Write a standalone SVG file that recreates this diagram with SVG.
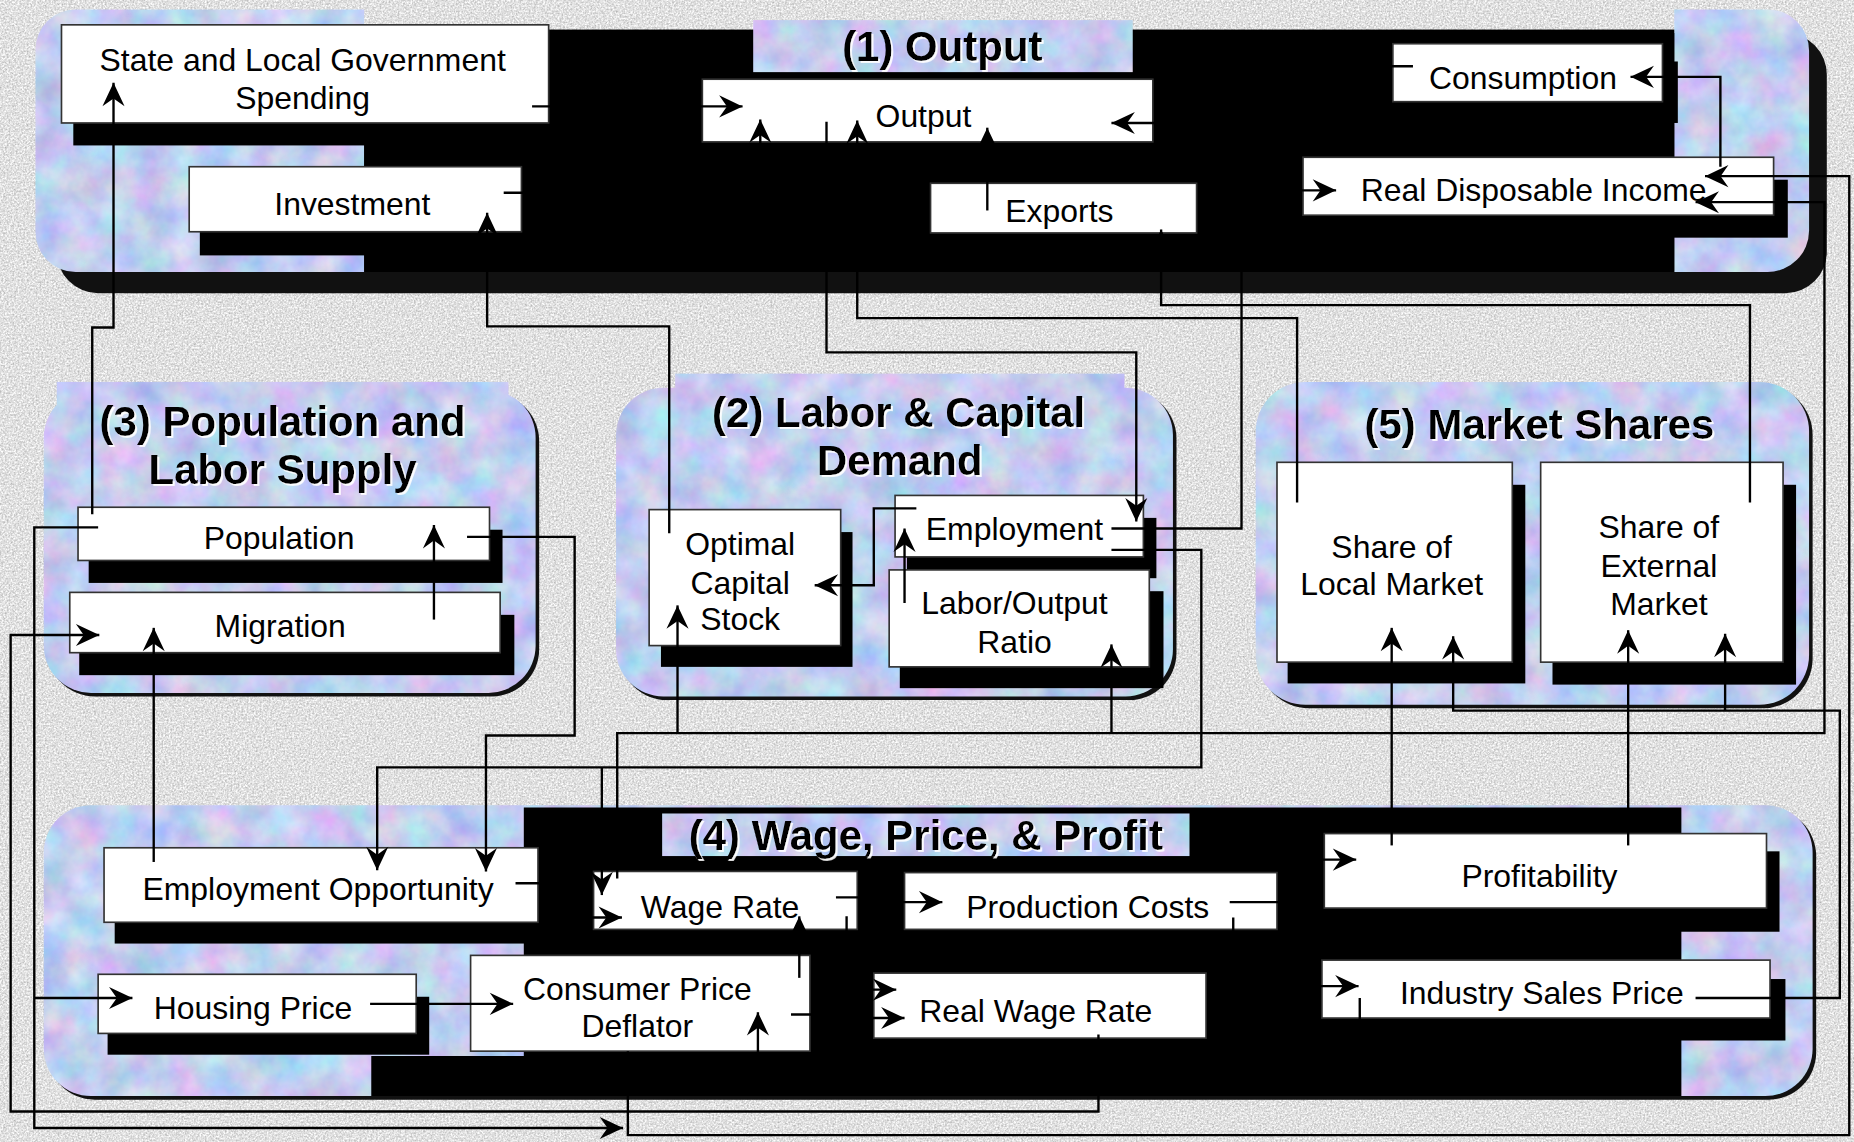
<svg xmlns="http://www.w3.org/2000/svg" width="1854" height="1142" viewBox="0 0 1854 1142">
<defs>
<filter id="gran" x="0" y="0" width="1" height="1" color-interpolation-filters="sRGB">
<feTurbulence type="fractalNoise" baseFrequency="0.55" numOctaves="3" seed="2" result="n"/>
<feColorMatrix in="n" type="matrix" values="0.42 0 0 0 0.67  0.42 0 0 0 0.67  0.42 0 0 0 0.67  0 0 0 0 1"/>
</filter>
<filter id="tex" x="0" y="0" width="1" height="1" color-interpolation-filters="sRGB">
<feTurbulence type="fractalNoise" baseFrequency="0.035" numOctaves="4" seed="7" result="n"/>
<feColorMatrix in="n" type="matrix" values="0.4 0 0 0 0.56  0 0.32 0 0 0.64  0 0 0.16 0 0.86  0 0 0 0 1" result="c"/>
<feComposite in="c" in2="SourceGraphic" operator="in"/>
</filter>
<filter id="emb" x="-5%" y="-10%" width="110%" height="130%">
<feDropShadow dx="1.6" dy="1.6" stdDeviation="0" flood-color="#ffffff" flood-opacity="0.95"/>
</filter>
<marker id="ah" markerUnits="userSpaceOnUse" markerWidth="22" markerHeight="22" viewBox="-19 -10 20 20" refX="0" refY="0" orient="auto">
<path d="M0,0 L-18,-8.5 L-12,0 L-18,8.5 Z" fill="#000"/>
</marker>
<style>
.tex{fill:#c4cdf2}
.blk{fill:#000}
.psh{fill:#111}
.sh{fill:#000}
.bx{fill:#fff;stroke:#333;stroke-width:1.4}
.t{font-family:"Liberation Sans",Arial,sans-serif;font-size:27px;text-anchor:middle;fill:#000}
.ttl{font-family:"Liberation Sans",Arial,sans-serif;font-size:35.5px;font-weight:bold;text-anchor:middle;fill:#000}
.ln{fill:none;stroke:#000;stroke-width:2}
.ar{marker-end:url(#ah)}
</style>
</defs>
<rect x="0" y="0" width="1854" height="1142" fill="#d8d8d8" filter="url(#gran)"/>
<g transform="scale(1.1824)">

<g id="panel-output">
<rect class="psh" x="48" y="28" width="1497" height="220" rx="35"/>
<path class="tex" filter="url(#tex)" d="M308,8 H64 A34,34 0 0 0 30,42 V196 A34,34 0 0 0 64,230 H308 Z"/>
<path class="tex" filter="url(#tex)" d="M1416,8 H1495 A35,35 0 0 1 1530,43 V195 A35,35 0 0 1 1495,230 H1416 Z"/>
<rect class="blk" x="308" y="25" width="1108" height="205"/>
<rect class="tex" filter="url(#tex)" x="637" y="17" width="321" height="44"/>
<text class="ttl" x="797" y="52" filter="url(#emb)">(1) Output</text>
</g>

<g id="panel-labor-capital">
<rect class="psh" x="524" y="331" width="471" height="261" rx="40"/>
<rect class="tex" filter="url(#tex)" x="521" y="328" width="471" height="261" rx="40"/>
<rect class="tex" filter="url(#tex)" x="571" y="316" width="380" height="104"/>
<text class="ttl" x="760" y="361" filter="url(#emb)">(2) Labor &amp; Capital</text>
<text class="ttl" x="761" y="402" filter="url(#emb)">Demand</text>
</g>

<g id="panel-population">
<rect class="psh" x="40" y="333" width="416" height="256" rx="40"/>
<rect class="tex" filter="url(#tex)" x="37" y="330" width="416" height="256" rx="40"/>
<rect class="tex" filter="url(#tex)" x="48" y="323" width="382" height="97"/>
<text class="ttl" x="239" y="369" filter="url(#emb)">(3) Population and</text>
<text class="ttl" x="239" y="409" filter="url(#emb)">Labor Supply</text>
</g>

<g id="panel-market-shares">
<rect class="psh" x="1065" y="326" width="468" height="273" rx="42"/>
<rect class="tex" filter="url(#tex)" x="1062" y="323" width="468" height="273" rx="42"/>
<rect class="tex" filter="url(#tex)" x="1143" y="333" width="317" height="50"/>
<text class="ttl" x="1302" y="371" filter="url(#emb)">(5) Market Shares</text>
</g>

<g id="panel-wage-price">
<rect class="psh" x="40" y="684" width="1496" height="246" rx="40"/>
<rect class="tex" filter="url(#tex)" x="37" y="681" width="1496" height="246" rx="40"/>
<path class="blk" d="M443,683 H1422 V927 H314 V893 H443 Z"/>
<rect class="tex" filter="url(#tex)" x="560" y="688" width="446" height="36"/>
<text class="ttl" x="783" y="719" filter="url(#emb)">(4) Wage, Price, &amp; Profit</text>
</g>

<g id="n-state"><rect class="sh" x="62" y="40" width="412" height="83"/><rect class="bx" x="52" y="21" width="412" height="83"/><text class="t" x="256" y="60">State and Local Government</text><text class="t" x="256" y="92">Spending</text></g>
<g id="n-investment"><rect class="sh" x="169" y="160" width="282" height="56"/><rect class="bx" x="160" y="141" width="281" height="55"/><text class="t" x="298" y="182">Investment</text></g>
<g id="n-output"><rect class="bx" x="594" y="67" width="381" height="53"/><text class="t" x="781" y="107">Output</text></g>
<g id="n-exports"><rect class="bx" x="787" y="155" width="225" height="42"/><text class="t" x="896" y="188">Exports</text></g>
<g id="n-consumption"><rect class="sh" x="1190" y="52" width="229" height="52"/><rect class="bx" x="1178" y="37" width="228" height="49"/><text class="t" x="1288" y="75">Consumption</text></g>
<g id="n-rdi"><rect class="sh" x="1114" y="152" width="398" height="49"/><rect class="bx" x="1102" y="133" width="398" height="49"/><text class="t" x="1297" y="170">Real Disposable Income</text></g>

<g id="n-population"><rect class="sh" x="75" y="448" width="350" height="45"/><rect class="bx" x="66" y="429" width="348" height="45"/><text class="t" x="236" y="464">Population</text></g>
<g id="n-migration"><rect class="sh" x="67" y="520" width="368" height="51"/><rect class="bx" x="59" y="501" width="364" height="51"/><text class="t" x="237" y="539">Migration</text></g>

<g id="n-optimal-capital"><rect class="sh" x="559" y="450" width="162" height="114"/><rect class="bx" x="549" y="431" width="162" height="115"/><text class="t" x="626" y="469">Optimal</text><text class="t" x="626" y="502">Capital</text><text class="t" x="626" y="533">Stock</text></g>
<g id="n-employment"><rect class="sh" x="767" y="438" width="211" height="51"/><rect class="bx" x="757" y="419" width="210" height="52"/><text class="t" x="858" y="457">Employment</text></g>
<g id="n-labor-output"><rect class="sh" x="761" y="500" width="223" height="82"/><rect class="bx" x="752" y="482" width="220" height="82"/><text class="t" x="858" y="519">Labor/Output</text><text class="t" x="858" y="552">Ratio</text></g>

<g id="n-share-local"><rect class="sh" x="1089" y="410" width="201" height="168"/><rect class="bx" x="1080" y="391" width="199" height="169"/><text class="t" x="1177" y="472">Share of</text><text class="t" x="1177" y="503">Local Market</text></g>
<g id="n-share-external"><rect class="sh" x="1313" y="410" width="206" height="169"/><rect class="bx" x="1303" y="391" width="205" height="169"/><text class="t" x="1403" y="455">Share of</text><text class="t" x="1403" y="488">External</text><text class="t" x="1403" y="520">Market</text></g>

<g id="n-employment-opportunity"><rect class="sh" x="97" y="736" width="370" height="62"/><rect class="bx" x="88" y="717" width="367" height="63"/><text class="t" x="269" y="761">Employment Opportunity</text></g>
<g id="n-housing-price"><rect class="sh" x="91" y="843" width="272" height="49"/><rect class="bx" x="83" y="824" width="269" height="50"/><text class="t" x="214" y="862">Housing Price</text></g>
<g id="n-cpi"><rect class="bx" x="398" y="808" width="287" height="81"/><text class="t" x="539" y="846">Consumer Price</text><text class="t" x="539" y="877">Deflator</text></g>
<g id="n-wage-rate"><rect class="bx" x="502" y="737" width="223" height="49"/><text class="t" x="609" y="776">Wage Rate</text></g>
<g id="n-production-costs"><rect class="bx" x="765" y="738" width="315" height="48"/><text class="t" x="920" y="776">Production Costs</text></g>
<g id="n-real-wage-rate"><rect class="bx" x="739" y="823" width="281" height="55"/><text class="t" x="876" y="864">Real Wage Rate</text></g>
<g id="n-profitability"><rect class="sh" x="1131" y="720" width="374" height="68"/><rect class="bx" x="1120" y="705" width="374" height="63"/><text class="t" x="1302" y="750">Profitability</text></g>
<g id="n-industry-sales-price"><rect class="sh" x="1129" y="828" width="381" height="52"/><rect class="bx" x="1118" y="812" width="379" height="49"/><text class="t" x="1304" y="849">Industry Sales Price</text></g>

<g id="connectors">
<path class="ln ar" d="M78,435 V277 H96 V70"/>
<path class="ln ar" d="M566,451 V276 H412 V180"/>
<path class="ln ar" d="M450,90 H628"/>
<path class="ln ar" d="M426,163 H643 V101"/>
<path class="ln ar" d="M699,103 V298 H961 V441"/>
<path class="ln ar" d="M1097,425 V269 H725 V102"/>
<path class="ln ar" d="M1480,425 V258 H982 V194"/>
<path class="ln ar" d="M835,178 V108"/>
<path class="ln ar" d="M1195,56 H1100 V104 H940"/>
<path class="ln ar" d="M1455,141 V65 H1379"/>
<path class="ln ar" d="M940,447 H1050 V161 H1130"/>
<path class="ln ar" d="M522,743 V620 H1543 V171 H1434"/>
<path class="ln ar" d="M531,889 V960 H1564 V149 H1442"/>
<path class="ln ar" d="M573,620 V512"/>
<path class="ln ar" d="M940,620 V545"/>
<path class="ln ar" d="M775,430 H739 V495 H689"/>
<path class="ln ar" d="M765,510 V447"/>
<path class="ln ar" d="M940,465 H1016 V649 H319 V736"/>
<path class="ln ar" d="M509,649 V757"/>
<path class="ln ar" d="M395,454 H486 V622 H411 V737"/>
<path class="ln ar" d="M130,729 V531"/>
<path class="ln ar" d="M367,524 V444"/>
<path class="ln ar" d="M83,446 H29 V954 H527"/>
<path class="ln ar" d="M29,844 H112"/>
<path class="ln ar" d="M929,875 V940 H9 V537 H84"/>
<path class="ln ar" d="M313,849 H434"/>
<path class="ln ar" d="M436,747 H480 V776 H526"/>
<path class="ln ar" d="M676,827 V775"/>
<path class="ln ar" d="M707,759 H750 V763 H797"/>
<path class="ln ar" d="M716,775 V837 H758"/>
<path class="ln ar" d="M669,858 H720 V861 H765"/>
<path class="ln ar" d="M1040,763 H1100 V727 H1147"/>
<path class="ln ar" d="M1043,776 V834 H1149"/>
<path class="ln ar" d="M1150,844 V905 H641 V856"/>
<path class="ln ar" d="M1177,715 V531"/>
<path class="ln ar" d="M1377,715 V533"/>
<path class="ln ar" d="M1434,844 H1556 V601 H1229 V538"/>
<path class="ln ar" d="M1459,601 V536"/>
</g>
</g>
</svg>
